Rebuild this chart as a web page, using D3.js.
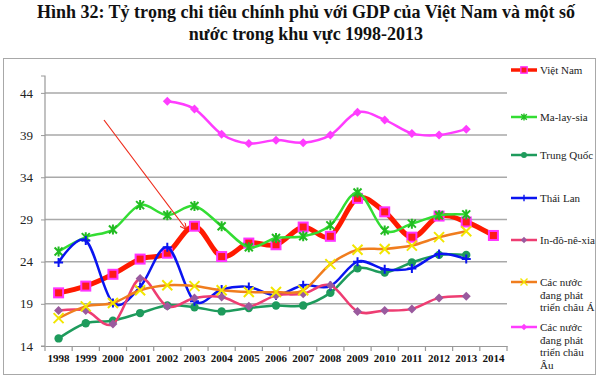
<!DOCTYPE html>
<html><head><meta charset="utf-8">
<script src="https://cdn.jsdelivr.net/npm/d3@7"></script>
<style>body{margin:0;background:#fff}svg{display:block}</style>
</head><body>
<svg id="c" width="600" height="378"></svg>
<script>
const years = [1998,1999,2000,2001,2002,2003,2004,2005,2006,2007,2008,2009,2010,2011,2012,2013,2014];
const yTicks = [14,19,24,29,34,39,44];
const titleLines = ["Hình 32: Tỷ trọng chi tiêu chính phủ với GDP của Việt Nam và một số","nước trong khu vực 1998-2013"];
const vietNam   = [20.3,21.1,22.5,24.3,25.0,28.2,24.6,26.2,26.0,28.1,27.0,31.5,29.9,26.9,29.4,28.7,27.1];
const malaysia  = [25.2,26.9,27.8,30.7,29.5,30.6,28.2,25.7,26.8,27.0,28.3,32.2,27.7,28.5,29.5,29.6,null];
const china     = [14.9,16.7,17.0,17.9,18.8,18.6,18.1,18.5,18.8,18.8,20.3,23.2,22.7,23.9,24.8,24.8,null];
const thailand  = [23.9,26.5,19.1,21.0,25.7,19.3,20.7,21.0,20.0,21.2,21.1,24.0,23.1,23.2,24.9,24.3,null];
const indonesia = [18.2,18.2,16.6,22.0,18.7,19.7,19.8,18.7,20.0,20.2,21.2,18.1,18.2,18.4,19.7,19.9,null];
const devAsia   = [17.3,18.7,19.1,20.6,21.2,21.1,20.6,20.4,20.4,20.6,23.7,25.4,25.5,25.9,26.9,27.6,null];
const devEurope = [null,null,null,null,43.0,42.1,39.1,38.0,38.4,38.1,39.0,41.7,40.8,39.2,39.0,39.7,null];
const seriesNames = ["Việt Nam","Ma-lay-sia","Trung Quốc","Thái Lan","In-đô-nê-xia",["Các nước","đang phát","triển châu Á"],["Các nước","đang phát","triển châu","Âu"]];

const series = [
  {name:seriesNames[0], values:vietNam,   line:"#FF1A00", lw:5,   marker:"square", fill:"#FF1A1A", stroke:"#FF33FF", ly:70},
  {name:seriesNames[1], values:malaysia,  line:"#33DD33", lw:2.5, marker:"star",   fill:"#33DD33", stroke:"#22BB22", ly:117},
  {name:seriesNames[2], values:china,     line:"#1E9B5C", lw:2.5, marker:"circle", fill:"#1E9B5C", stroke:"#1E9B5C", ly:155},
  {name:seriesNames[3], values:thailand,  line:"#0A14F0", lw:2.5, marker:"plus",   fill:"#0A14F0", stroke:"#0A14F0", ly:198},
  {name:seriesNames[4], values:indonesia, line:"#EE3D72", lw:2.5, marker:"diamond",fill:"#9A5A9E", stroke:"#9A5A9E", ly:240},
  {name:seriesNames[5], values:devAsia,   line:"#F07D1E", lw:2.5, marker:"x",      fill:"#F2E600", stroke:"#F2E600", ly:282},
  {name:seriesNames[6], values:devEurope, line:"#FF3DFF", lw:2.5, marker:"diamond",fill:"#FF3DFF", stroke:"#E030E0", ly:327}
];

const svg = d3.select("#c");
const F = "'Liberation Serif','Times New Roman',serif";

// title
svg.selectAll("text.title").data(titleLines).join("text")
  .attr("x",306).attr("y",(d,i)=>18+i*22).attr("text-anchor","middle")
  .attr("font-family",F).attr("font-weight","bold").attr("font-size",18).attr("fill","#111")
  .text(d=>d);

// frame
svg.append("rect").attr("x",3.5).attr("y",58.5).attr("width",592).attr("height",316)
  .attr("fill","none").attr("stroke","#a8a8a8").attr("stroke-width",1);

const x = d3.scaleBand().domain(years).range([45,507]);
const cx = d => x(d) + x.bandwidth()/2;
const y = d3.scaleLinear().domain([14,46]).range([346,76]);

// gridlines
svg.append("g").selectAll("line").data(yTicks.filter(t=>t>14)).join("line")
  .attr("x1",45).attr("x2",507).attr("y1",d=>y(d)).attr("y2",d=>y(d))
  .attr("stroke","#a9a9a9").attr("stroke-width",1.5);

// y axis
const ya = svg.append("g").attr("transform","translate(45,0)")
  .call(d3.axisLeft(y).tickValues(yTicks).tickSize(4).tickPadding(8).tickFormat(d3.format("d")));
ya.select(".domain").attr("stroke","#999").attr("d","M-4,"+y(46)+"H0V"+y(14)+"H-4").attr("stroke-width",1.2);
ya.selectAll(".tick line").attr("stroke","#999");
ya.selectAll("text").attr("font-family",F).attr("font-size",13).attr("fill","#222");

// x axis
const xa = svg.append("g").attr("transform","translate(0,346)")
  .call(d3.axisBottom(x).tickSize(0).tickPadding(8));
xa.select(".domain").attr("stroke","#999").attr("stroke-width",1.2);
xa.selectAll("text").attr("font-family",F).attr("font-weight","bold").attr("font-size",11).attr("fill","#111");
xa.selectAll("line.sep").data(years.concat([2015])).join("line").attr("class","sep")
  .attr("x1",d=>d===2015? 507 : x(d)).attr("x2",d=>d===2015? 507 : x(d))
  .attr("y1",0).attr("y2",5).attr("stroke","#999").attr("stroke-width",1.2);

function marker(g, type, s) {
  const sz = 4.5;
  if (type==="square") g.append("rect").attr("x",-sz).attr("y",-sz).attr("width",2*sz).attr("height",2*sz)
      .attr("fill",s.fill).attr("stroke",s.stroke).attr("stroke-width",2);
  else if (type==="circle") g.append("circle").attr("r",4.2).attr("fill",s.fill);
  else if (type==="diamond") g.append("path").attr("d","M0,-4.5L4.5,0L0,4.5L-4.5,0Z").attr("fill",s.fill);
  else if (type==="plus") g.append("path").attr("d","M-4.5,0H4.5M0,-4.5V4.5").attr("stroke",s.stroke).attr("stroke-width",2);
  else if (type==="x") g.append("path").attr("d","M-5,-5L5,5M-5,5L5,-5").attr("stroke",s.stroke).attr("stroke-width",2);
  else if (type==="star") g.append("path").attr("d","M-4,-4L4,4M-4,4L4,-4M0,-5V5").attr("stroke",s.stroke).attr("stroke-width",2);
}

const line = d3.line().defined(d=>d.v!=null).x(d=>cx(d.year)).y(d=>y(d.v)).curve(d3.curveCardinal.tension(0));

series.forEach(s=>{
  const pts = years.map((yr,i)=>({year:yr, v:s.values[i]}));
  svg.append("path").datum(pts.filter(p=>p.v!=null)).attr("d",line)
    .attr("fill","none").attr("stroke",s.line).attr("stroke-width",s.lw).attr("stroke-linejoin","round");
  svg.append("g").selectAll("g").data(pts.filter(p=>p.v!=null)).join("g")
    .attr("transform",p=>`translate(${cx(p.year)},${y(p.v)})`)
    .each(function(){ marker(d3.select(this), s.marker, s); });
});

// arrow
svg.append("defs").append("marker").attr("id","ah").attr("viewBox","0 0 10 10").attr("refX",9).attr("refY",5)
  .attr("markerWidth",7).attr("markerHeight",7).attr("orient","auto-start-reverse").attr("markerUnits","userSpaceOnUse")
  .append("path").attr("d","M0,0L10,5L0,10").attr("fill","none").attr("stroke","#EE2A1A").attr("stroke-width",1.5);
svg.append("line").attr("x1",104).attr("y1",120).attr("x2",186).attr("y2",229)
  .attr("stroke","#EE2A1A").attr("stroke-width",1.2).attr("marker-end","url(#ah)");

// legend
series.forEach(s=>{
  const g = svg.append("g").attr("transform",`translate(0,${s.ly})`);
  g.append("line").attr("x1",511).attr("x2",537).attr("y1",0).attr("y2",0)
    .attr("stroke",s.line).attr("stroke-width",Math.min(s.lw,3.5));
  const m = g.append("g").attr("transform","translate(524,0) scale(0.7)");
  marker(m, s.marker, s);
  const lines = Array.isArray(s.name)? s.name : [s.name];
  g.selectAll("text").data(lines).join("text").attr("x",540).attr("y",(d,i)=>4+i*12.7)
    .attr("font-family",F).attr("font-size",11).attr("fill","#222").text(d=>d);
});
</script>
</body></html>
